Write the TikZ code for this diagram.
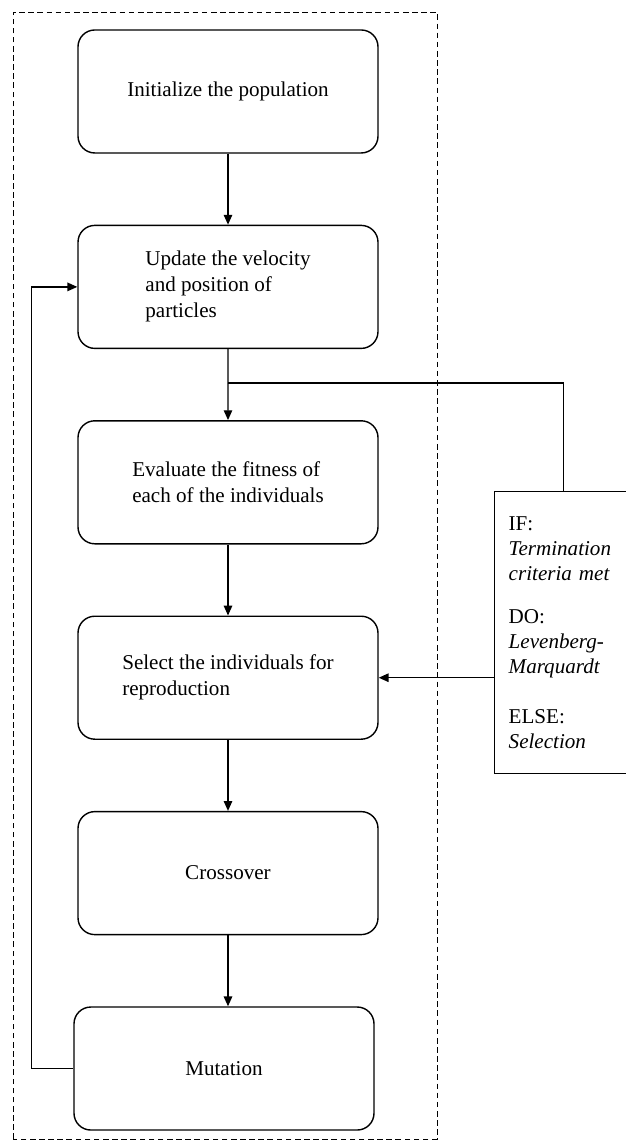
\documentclass[tikz,border=0pt]{standalone}
\usepackage{fontspec}
\setmainfont{Liberation Serif}
\usetikzlibrary{positioning,calc,arrows.meta}

\begin{document}
\begin{tikzpicture}[
        node distance=1.775cm,
        flowbox/.style={rectangle, rounded corners=0.42cm, draw, line width=1pt,
            minimum width=7.5cm,
            minimum height=3.075cm,
            align=left, font=\fontsize{15}{18.5}\selectfont},
        condbox/.style={rectangle, draw, line width=1pt,
            minimum width=3.45cm, minimum height=7.05cm,
            text width=2.75cm, inner xsep=0.35cm,
            align=left, font=\fontsize{15}{17.8}\selectfont},
        flow/.style={-{Triangle[length=7pt,width=6pt]}, line width=1pt}
    ]
        \useasboundingbox (0,0) rectangle (15.65,28.525);
        % outer dashed frame
        \draw[dash pattern=on 4pt off 2.5pt, line width=0.6pt] (0.325,0.05) rectangle (10.925,28.225);

        % Main column
        \node[flowbox] (init) at (5.7,26.2375) {Initialize the population};
        \node[flowbox, below=of init] (update) {Update the velocity\\and position of\\particles};
        \node[flowbox, below=of update] (evaluate) {Evaluate the fitness of\\each of the individuals};
        \node[flowbox, below=of evaluate] (select) {Select the individuals for\\reproduction};
        \node[flowbox, below=of select] (crossover) {Crossover};
        \node[flowbox, below=of crossover, xshift=-0.1cm] (mutation) {Mutation};

        % Termination check
        \coordinate (split) at ($(update.south)!0.48!(evaluate.north)$);
        \node[condbox, anchor=north west] (cond) at (12.35,16.25) {IF:\\\textit{Termination}\\\textit{criteria met}\\[13pt]DO:\\\textit{Levenberg-}\\\textit{Marquardt}\\[18pt]ELSE:\\\textit{Selection}};

        % Connections
        \draw[flow] (init) -- (update);
        \draw[line width=1pt] (update) -- (split);
        \draw[flow] (split) -- (evaluate);
        \draw[flow] (evaluate) -- (select);
        \draw[flow] (select) -- (crossover);
        \draw[flow] (crossover) -- (crossover |- mutation.north);
        \draw[line width=1pt] (split) -| (cond.north);
        \draw[flow] (cond.west |- select.east) -- (select.east);
        \draw[flow] (mutation.west) -- ++(-1.05cm,0) |- (update.west);
    \end{tikzpicture}
\end{document}
